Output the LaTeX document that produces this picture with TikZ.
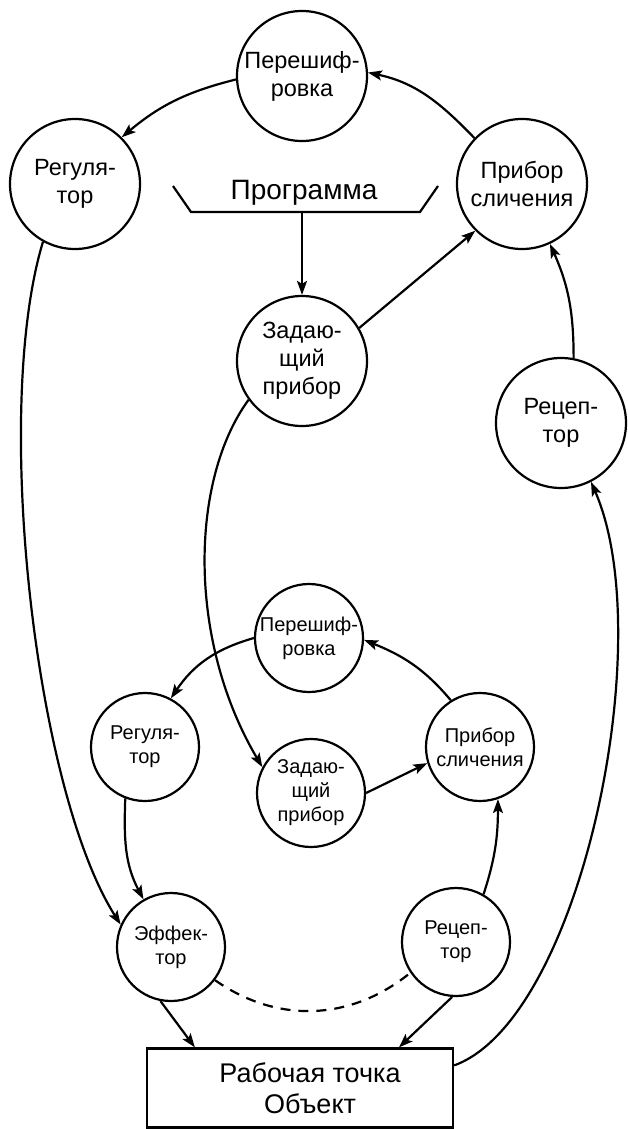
\documentclass[tikz,border=0pt]{standalone}
\usepackage{fontspec}
\setmainfont{Liberation Sans}
\usetikzlibrary{arrows.meta,calc}
\begin{document}
\begin{tikzpicture}[x=1pt,y=1pt,
  big/.style={draw, circle, line width=2.2pt, minimum size=130pt, inner sep=0pt, align=center, font=\fontsize{23.5}{28}\selectfont},
  small/.style={draw, circle, line width=2.2pt, minimum size=108pt, inner sep=0pt, align=center, font=\fontsize{20}{24}\selectfont},
  arr/.style={line width=2.2pt, -{Stealth[length=14pt,width=10pt,inset=3pt]}},
  ln/.style={line width=2.2pt}]
\useasboundingbox (0,0) rectangle (627,-1129);
% upper ring
\node[big] (P1) at (302,-76) {Перешиф-\\ровка};
\node[big] (R1) at (75,-184) {Регуля-\\тор};
\node[big] (S1) at (522,-184) {Прибор\\сличения};
\node[big] (Z1) at (302,-361) {Задаю-\\щий\\прибор};
\node[big] (C1) at (561,-423) {Рецеп-\\тор};
\node[font=\fontsize{28}{32}\selectfont, anchor=base, inner sep=0pt] (prog) at (304,-199) {Программа};
\coordinate (progb) at (302,-212);
\draw[ln, line join=miter] (173,-186) -- (191,-212) -- (420,-212) -- (438,-186);
% lower ring
\node[small] (P2) at (309,-638) {Перешиф-\\ровка};
\node[small] (R2) at (145,-747) {Регуля-\\тор};
\node[small] (S2) at (480,-747) {Прибор\\сличения};
\node[small] (Z2) at (311,-793) {Задаю-\\щий\\прибор};
\node[small] (E) at (171,-947) {Эффек-\\тор};
\node[small] (C2) at (456,-942) {Рецеп-\\тор};
\node[draw, line width=2.2pt, minimum width=306pt, minimum height=79pt, inner sep=0pt, align=center, font=\fontsize{27}{31}\selectfont] (box) at (300,-1088) {\hspace*{20pt}Рабочая точка\\\hspace*{20pt}Объект};
% upper connectors
\draw[arr] (P1.183) to[out=194, in=40] (R1.45);
\draw[arr] (S1.136) to[out=134, in=-12] (P1.3);
\draw[arr] (progb) -- (Z1.north);
\draw[arr] (Z1.30) -- (S1.225);
\draw[arr] (C1.79) to[out=90, in=294] (S1.295);
\draw[arr] (Z1.216) .. controls (190,-480) and (187,-640) .. (Z2.152);
\draw[arr] (R1.241) .. controls (-8,-410) and (35,-790) .. (E.156);
% lower connectors
\draw[arr] (P2.180) to[out=196, in=56] (R2.62);
\draw[arr] (S2.122) to[out=130, in=338] (P2.358);
\draw[arr] (Z2.0) -- (S2.197);
\draw[arr] (R2.249) to[out=268, in=118] (E.120);
\draw[arr] (C2.60) to[out=72, in=270] (S2.289);
\draw[arr] (E.259) -- ([xshift=49pt]box.north west);
\draw[arr] (C2.266) -- ([xshift=253pt]box.north west);
\draw[ln, dash pattern=on 10pt off 8pt] (E.323) to[out=-35, in=219] (C2.214);
\draw[arr] ([yshift=-18pt]box.north east) .. controls (580,-1020) and (660,-640) .. (C1.297);
\end{tikzpicture}
\end{document}
